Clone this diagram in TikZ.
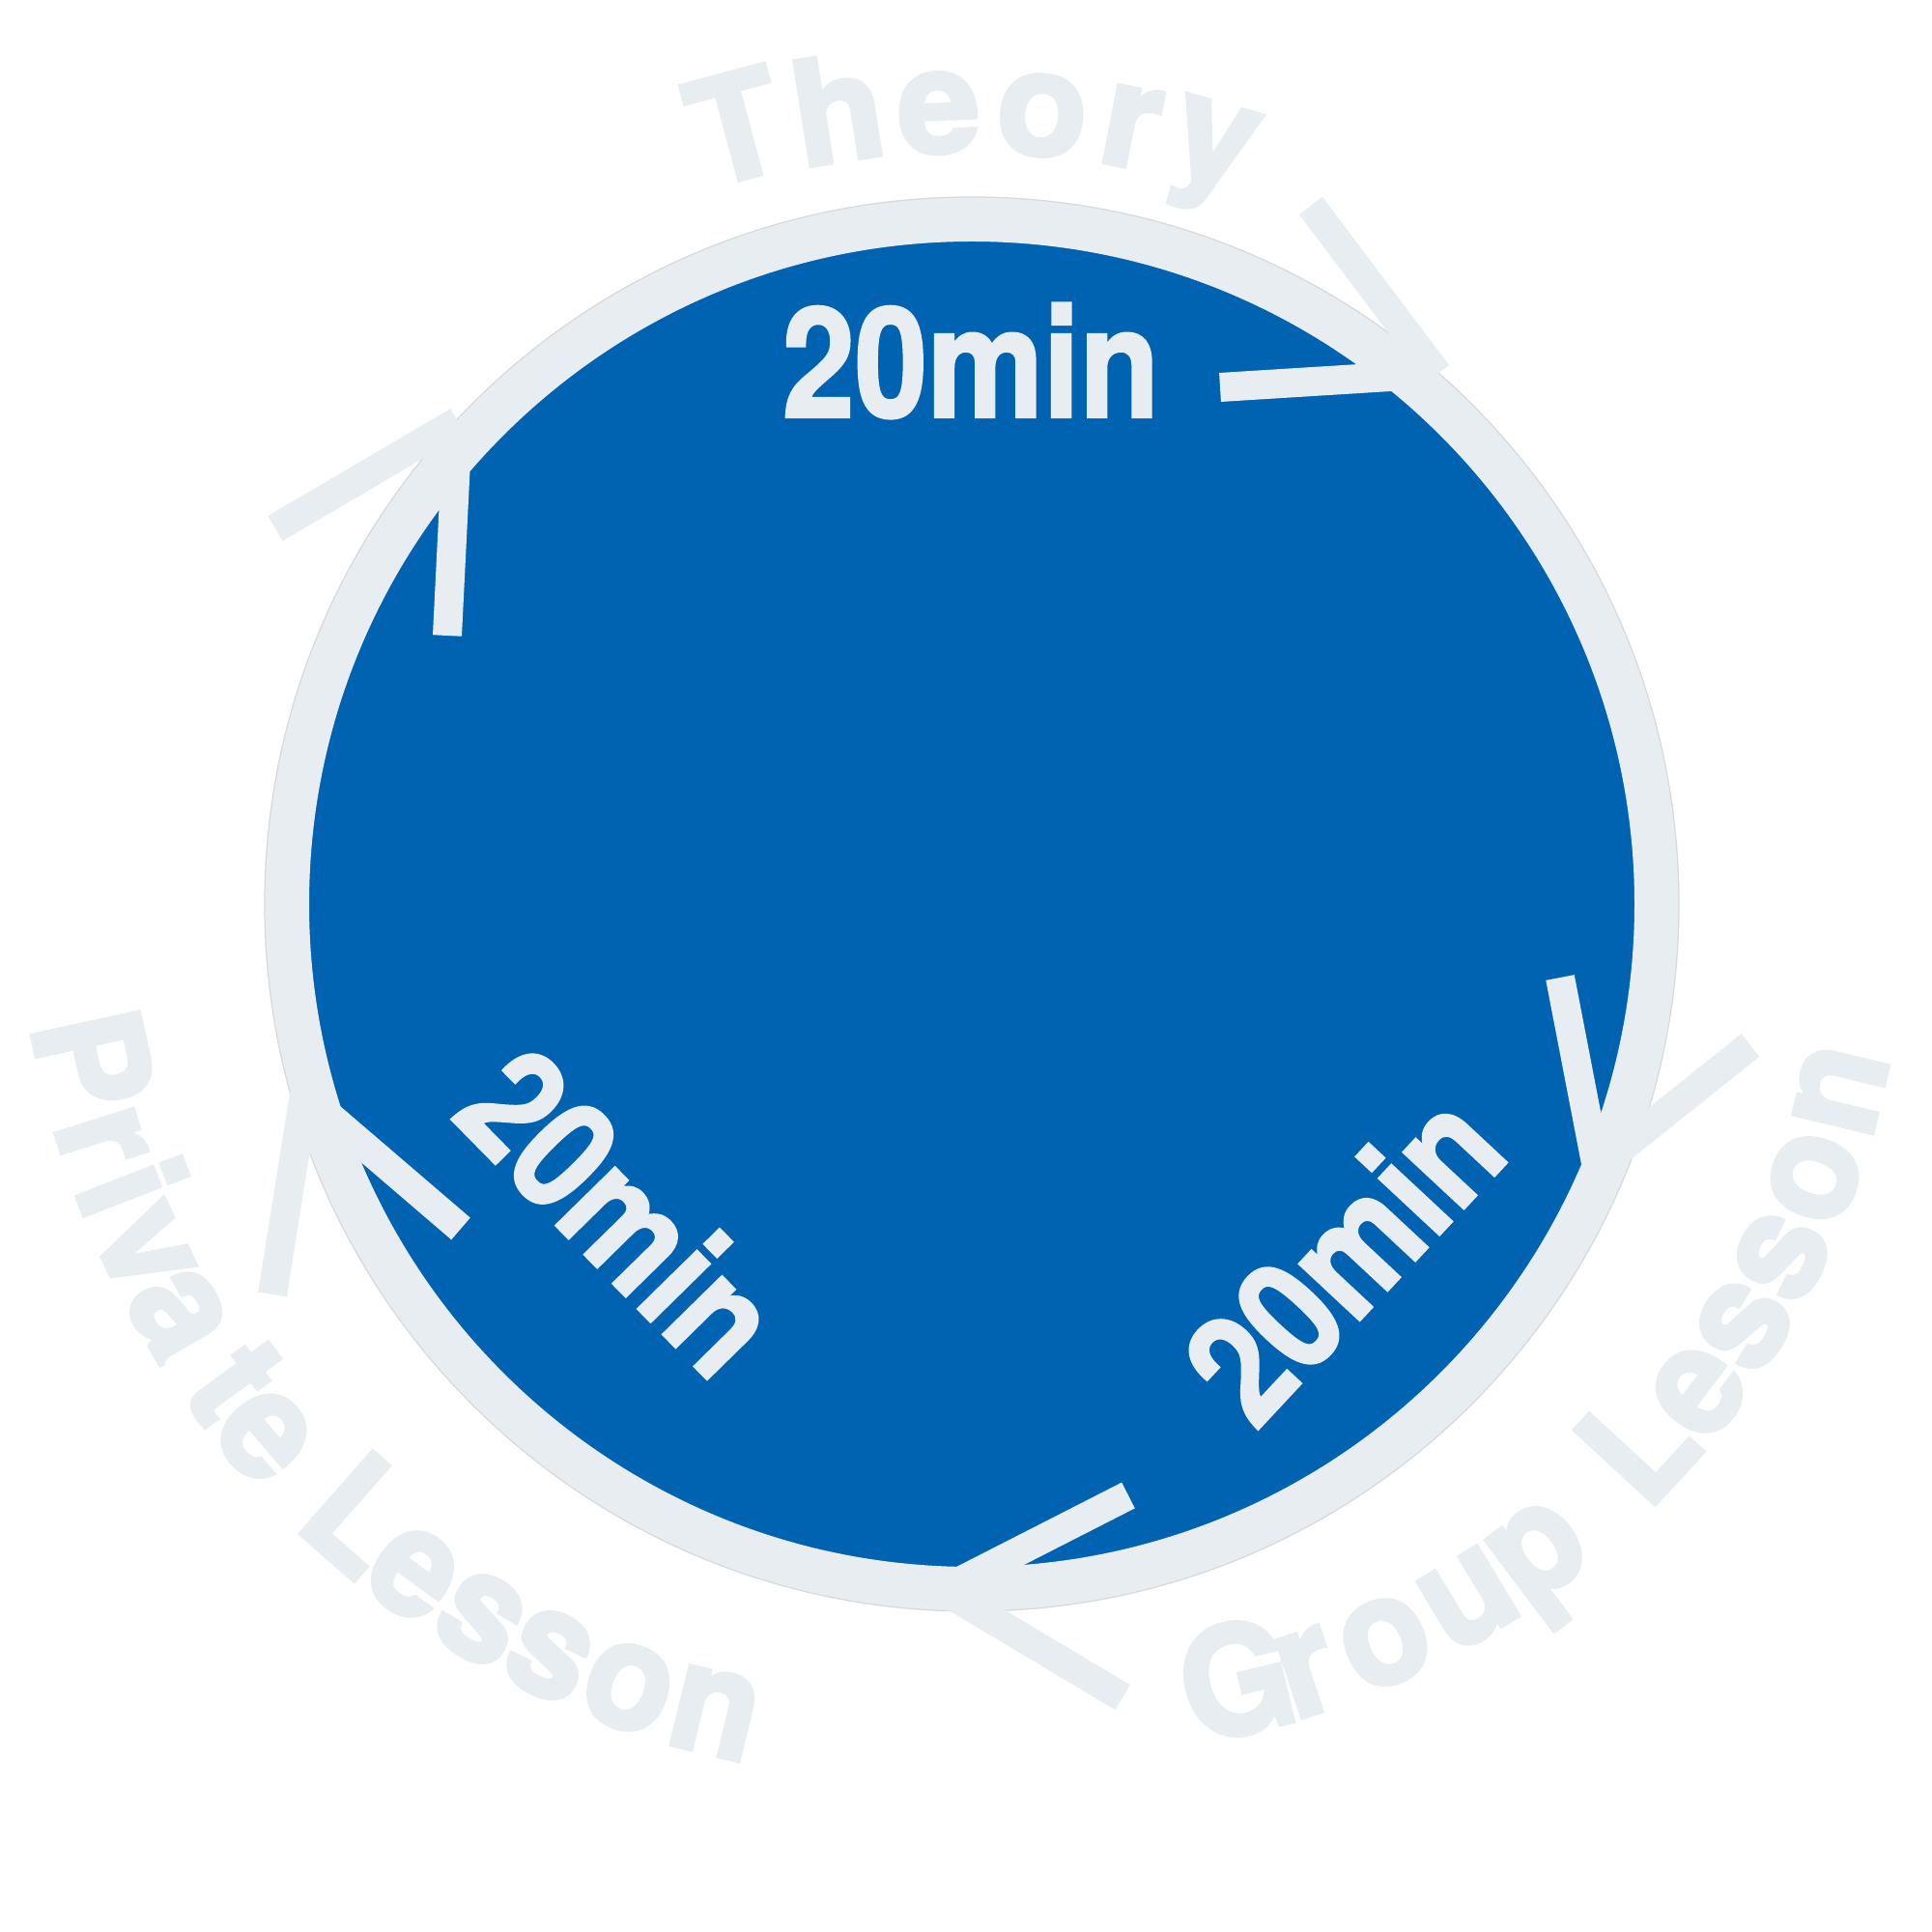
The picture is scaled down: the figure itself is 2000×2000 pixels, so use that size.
\documentclass[tikz,border=0pt]{standalone}
\usepackage{fontspec}
\newfontfamily\lblfont{TeX Gyre Heros}[FakeStretch=0.95, FakeBold=3]
\newfontfamily\theofont{TeX Gyre Heros}[FakeStretch=1.02, FakeBold=3]
\newfontfamily\minfont{TeX Gyre Heros}[FakeStretch=0.85, FakeBold=1.5]
\definecolor{discblue}{RGB}{0,99,178}
\definecolor{pale}{RGB}{232,237,241}
\begin{document}
\begin{tikzpicture}[x=0.01cm, y=0.01cm,
  arm/.style={pale, line width=0.3cm, line cap=butt},
  lettr/.style={text=pale, inner sep=0pt, anchor=base,
    font=\lblfont\bfseries\fontsize{44.1pt}{50pt}\selectfont},
  theo/.style={text=pale, inner sep=0pt, anchor=base,
    font=\theofont\bfseries\fontsize{42.7pt}{50pt}\selectfont},
  minlbl/.style={text=pale, inner sep=0pt,
    font=\minfont\bfseries\fontsize{45.2pt}{50pt}\selectfont}]
\useasboundingbox (0,0) rectangle (2000,2000);
\fill[white] (0,0) rectangle (2000,2000);
% disc and ring
\coordinate (c) at (1006,1064);
\fill[discblue] (c) circle (700);
\draw[pale, line width=0.46cm] (c) circle (709);
\draw[black!15, line width=0.35pt] (c) circle (732);
% arrowheads
\coordinate (a1) at (1488,1613); \coordinate (a1u) at (1357,1787); \coordinate (a1l) at (1263,1599);
\coordinate (a2) at (474,1564);  \coordinate (a2u) at (285,1453);  \coordinate (a2l) at (463,1342);
\coordinate (a3) at (1653,791);  \coordinate (a3u) at (1615,988);  \coordinate (a3l) at (1812,918);
\coordinate (a4) at (976,354);   \coordinate (a4u) at (1168,452);  \coordinate (a4l) at (1162,243);
\coordinate (a5) at (315,867);   \coordinate (a5u) at (282,660);   \coordinate (a5l) at (477,728);
\foreach \a in {a1,a2,a3,a4,a5}{
  \draw[arm] (\a) -- (\a u);
  \draw[arm] (\a) -- (\a l);
}
% 20min labels
\node[minlbl, anchor=base] (m1) at (1005,1568) {20min};
\node[minlbl, rotate=-45.5] (m2) at (643,746) {20min};
\node[minlbl, rotate=47] (m3) at (1390,700) {20min};
% Theory
\begin{scope}[shift={(1006,1064)}]
\node[theo, rotate=15]  (t1) at (107.0:787) {T};
\node[theo, rotate=9]   (t2) at (99.6:781) {h};
\node[theo, rotate=2]   (t3) at (92.4:779) {e};
\node[theo, rotate=-5]  (t4) at (84.9:779) {o};
\node[theo, rotate=-11] (t5) at (78.4:780) {r};
\node[theo, rotate=-16] (t6) at (72.2:787) {y};
\end{scope}
% Private Lesson
\begin{scope}[shift={(950,1089)}]
\node[lettr, rotate=282.3] (p1) at (192.3:930) {P};
\node[lettr, rotate=287.6] (p2) at (197.6:930) {r};
\node[lettr, rotate=291.3] (p3) at (201.3:930) {i};
\node[lettr, rotate=295.5] (p4) at (205.5:930) {v};
\node[lettr, rotate=300.4] (p5) at (210.4:930) {a};
\node[lettr, rotate=306.3] (p6) at (216.3:930) {t};
\node[lettr, rotate=310.4] (p7) at (220.4:930) {e};
\node[lettr, rotate=318.7] (p8) at (228.7:930) {L};
\node[lettr, rotate=324.0] (p9) at (234.0:930) {e};
\node[lettr, rotate=329.4] (p10) at (239.4:930) {s};
\node[lettr, rotate=334.6] (p11) at (244.6:930) {s};
\node[lettr, rotate=340.3] (p12) at (250.3:930) {o};
\node[lettr, rotate=346.3] (p13) at (256.3:930) {n};
\end{scope}
% Group Lesson
\begin{scope}[shift={(1084,1069)}]
\node[lettr, rotate=13.6] (g1) at (-76.4:887) {G};
\node[lettr, rotate=18.6] (g2) at (-71.4:887) {r};
\node[lettr, rotate=24.5] (g3) at (-65.5:887) {o};
\node[lettr, rotate=31.1] (g4) at (-58.9:887) {u};
\node[lettr, rotate=37.0] (g5) at (-53.0:887) {p};
\node[lettr, rotate=47.3] (g6) at (-42.7:887) {L};
\node[lettr, rotate=53.0] (g7) at (-37.0:887) {e};
\node[lettr, rotate=58.6] (g8) at (-31.4:887) {s};
\node[lettr, rotate=64.1] (g9) at (-25.9:887) {s};
\node[lettr, rotate=70.1] (g10) at (-19.9:887) {o};
\node[lettr, rotate=76.5] (g11) at (-13.5:887) {n};
\end{scope}
\end{tikzpicture}
\end{document}
